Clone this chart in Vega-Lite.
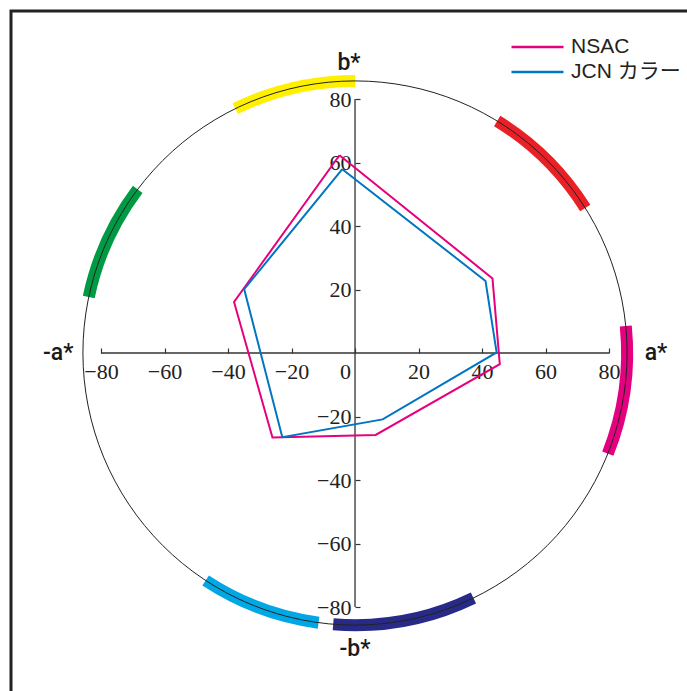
{
  "$schema": "https://vega.github.io/schema/vega-lite/v6.json",
  "width": 676,
  "height": 680,
  "autosize": {"type": "none"},
  "padding": {"left": 11, "top": 11, "right": 0, "bottom": 0},
  "background": "white",
  "config": {
    "view": {"stroke": "#222", "strokeWidth": 3, "strokeDash": [676, 1356, 680], "strokeCap": "square"}
  },
  "datasets": {
    "bands": [
      {"hue": "yellow", "h1": 90, "h2": 116.1, "r1": 83.8, "r2": 87.6},
      {"hue": "red", "h1": 32.2, "h2": 58.5, "r1": 83.8, "r2": 87.6},
      {"hue": "magenta", "h1": -21.7, "h2": 5.7, "r1": 83.8, "r2": 87.6},
      {"hue": "green", "h1": 143.0, "h2": 168.1, "r1": 83.8, "r2": 87.6},
      {"hue": "cyan", "h1": 236.7, "h2": 262.3, "r1": 83.8, "r2": 87.6},
      {"hue": "navy", "h1": 265.4, "h2": 295.8, "r1": 83.8, "r2": 87.6}
    ],
    "ring": [{"h1": 0, "h2": 360, "r": 85.7}],
    "axes": [
      {"a": -80, "a2": 80, "b": 0, "b2": 0},
      {"a": 0, "a2": 0, "b": -80, "b2": 80}
    ],
    "poly": [
      {"series": "NSAC", "i": 0, "a": -4.9, "b": 62.3},
      {"series": "NSAC", "i": 1, "a": 43.3, "b": 23.5},
      {"series": "NSAC", "i": 2, "a": 45.6, "b": -3.5},
      {"series": "NSAC", "i": 3, "a": 6.5, "b": -25.8},
      {"series": "NSAC", "i": 4, "a": -26.0, "b": -26.6},
      {"series": "NSAC", "i": 5, "a": -38.1, "b": 16.1},
      {"series": "NSAC", "i": 6, "a": -4.9, "b": 62.3},
      {"series": "JCN カラー", "i": 0, "a": -4.0, "b": 57.9},
      {"series": "JCN カラー", "i": 1, "a": 41.1, "b": 22.7},
      {"series": "JCN カラー", "i": 2, "a": 44.6, "b": 0.2},
      {"series": "JCN カラー", "i": 3, "a": 8.7, "b": -20.9},
      {"series": "JCN カラー", "i": 4, "a": -22.9, "b": -26.5},
      {"series": "JCN カラー", "i": 5, "a": -34.9, "b": 20.1},
      {"series": "JCN カラー", "i": 6, "a": -4.0, "b": 57.9}
    ],
    "labels": [
      {"t": "b*", "a": -1.9, "b": 91.3},
      {"t": "a*", "a": 94.8, "b": 0},
      {"t": "-a*", "a": -93.5, "b": 0},
      {"t": "-b*", "a": 0, "b": -93.2}
    ]
  },
  "layer": [
    {
      "data": {"name": "bands"},
      "mark": {"type": "arc"},
      "encoding": {
        "x": {"datum": 0, "type": "quantitative", "scale": {"domain": [-108.35, 104.56], "nice": false, "zero": false}},
        "y": {"datum": 0, "type": "quantitative", "scale": {"domain": [-106.45, 107.72], "nice": false, "zero": false}},
        "theta": {"field": "h1", "type": "quantitative", "stack": null,
          "scale": {"domain": [0, 360], "range": [1.5707963268, -4.71238899], "nice": false, "zero": false}},
        "theta2": {"field": "h2"},
        "radius": {"field": "r1", "type": "quantitative",
          "scale": {"type": "linear", "domain": [0, 100], "range": [0, 317.5], "zero": true, "nice": false}},
        "radius2": {"field": "r2"},
        "fill": {"field": "hue", "type": "nominal", "legend": null,
          "scale": {"domain": ["yellow", "red", "magenta", "green", "cyan", "navy"],
                    "range": ["#FFF000", "#EA2027", "#E4007F", "#009944", "#00A7E5", "#282A87"]}}
      }
    },
    {
      "data": {"name": "ring"},
      "mark": {"type": "arc", "filled": false, "stroke": "#222", "strokeWidth": 1},
      "encoding": {
        "x": {"datum": 0, "type": "quantitative", "scale": {"domain": [-108.35, 104.56], "nice": false, "zero": false}},
        "y": {"datum": 0, "type": "quantitative", "scale": {"domain": [-106.45, 107.72], "nice": false, "zero": false}},
        "theta": {"field": "h1", "type": "quantitative", "stack": null,
          "scale": {"domain": [0, 360], "range": [1.5707963268, -4.71238899], "nice": false, "zero": false}},
        "theta2": {"field": "h2"},
        "radius": {"field": "r", "type": "quantitative",
          "scale": {"type": "linear", "domain": [0, 100], "range": [0, 317.5], "zero": true, "nice": false}}
      }
    },
    {
      "data": {"name": "axes"},
      "mark": {"type": "rule", "stroke": "#333", "strokeWidth": 1.3},
      "encoding": {
        "x": {"field": "a", "type": "quantitative", "scale": {"domain": [-108.35, 104.56], "nice": false, "zero": false}},
        "x2": {"field": "a2"},
        "y": {"field": "b", "type": "quantitative", "scale": {"domain": [-106.45, 107.72], "nice": false, "zero": false}},
        "y2": {"field": "b2"}
      }
    },
    {
      "data": {"name": "poly"},
      "mark": {"type": "line", "strokeWidth": 2},
      "encoding": {
        "x": {
          "field": "a", "type": "quantitative",
          "scale": {"domain": [-108.35, 104.56], "nice": false, "zero": false},
          "axis": {
            "orient": "bottom", "offset": -338,
            "values": [-80, -60, -40, -20, 0, 20, 40, 60, 80],
            "domain": false, "grid": false, "title": null,
            "tickSize": -5, "tickColor": "#333", "tickWidth": 1.2,
            "labelFont": "Liberation Serif, DejaVu Serif, serif", "labelFontSize": 22, "labelColor": "#222",
            "labelPadding": 13, "labelFlush": false, "labelOverlap": false, "labelBound": false,
            "labelOffset": {"condition": {"test": "datum.value === 0", "value": -10}, "value": 0}
          }
        },
        "y": {
          "field": "b", "type": "quantitative",
          "scale": {"domain": [-106.45, 107.72], "nice": false, "zero": false},
          "axis": {
            "orient": "left", "offset": -344,
            "values": [-80, -60, -40, -20, 20, 40, 60, 80],
            "domain": false, "grid": false, "title": null,
            "tickSize": -5, "tickColor": "#333", "tickWidth": 1.2,
            "labelFont": "Liberation Serif, DejaVu Serif, serif", "labelFontSize": 22, "labelColor": "#222",
            "labelPadding": 9, "labelAlign": "right", "labelBaseline": "middle",
            "labelFlush": false, "labelOverlap": false, "labelBound": false
          }
        },
        "order": {"field": "i", "type": "quantitative"},
        "stroke": {"field": "series", "type": "nominal",
          "scale": {"domain": ["NSAC", "JCN カラー"], "range": ["#E6007E", "#0075C2"]},
          "legend": {
            "title": null, "orient": "none", "legendX": 499, "legendY": 23.5,
            "symbolType": "stroke", "symbolSize": 2704, "symbolStrokeWidth": 2.5,
            "labelFont": "Liberation Sans, Noto Sans CJK JP", "labelFontSize": 21, "labelColor": "#222",
            "labelOffset": 6, "padding": 0, "rowPadding": 0, "clipHeight": 25
          }}
      }
    },
    {
      "data": {"name": "labels"},
      "mark": {"type": "text", "font": "Roboto", "fontWeight": 500, "fontSize": 23, "color": "#1a1a1a", "align": "center", "baseline": "middle"},
      "encoding": {
        "x": {"field": "a", "type": "quantitative", "scale": {"domain": [-108.35, 104.56], "nice": false, "zero": false}},
        "y": {"field": "b", "type": "quantitative", "scale": {"domain": [-106.45, 107.72], "nice": false, "zero": false}},
        "text": {"field": "t", "type": "nominal"}
      }
    }
  ]
}
